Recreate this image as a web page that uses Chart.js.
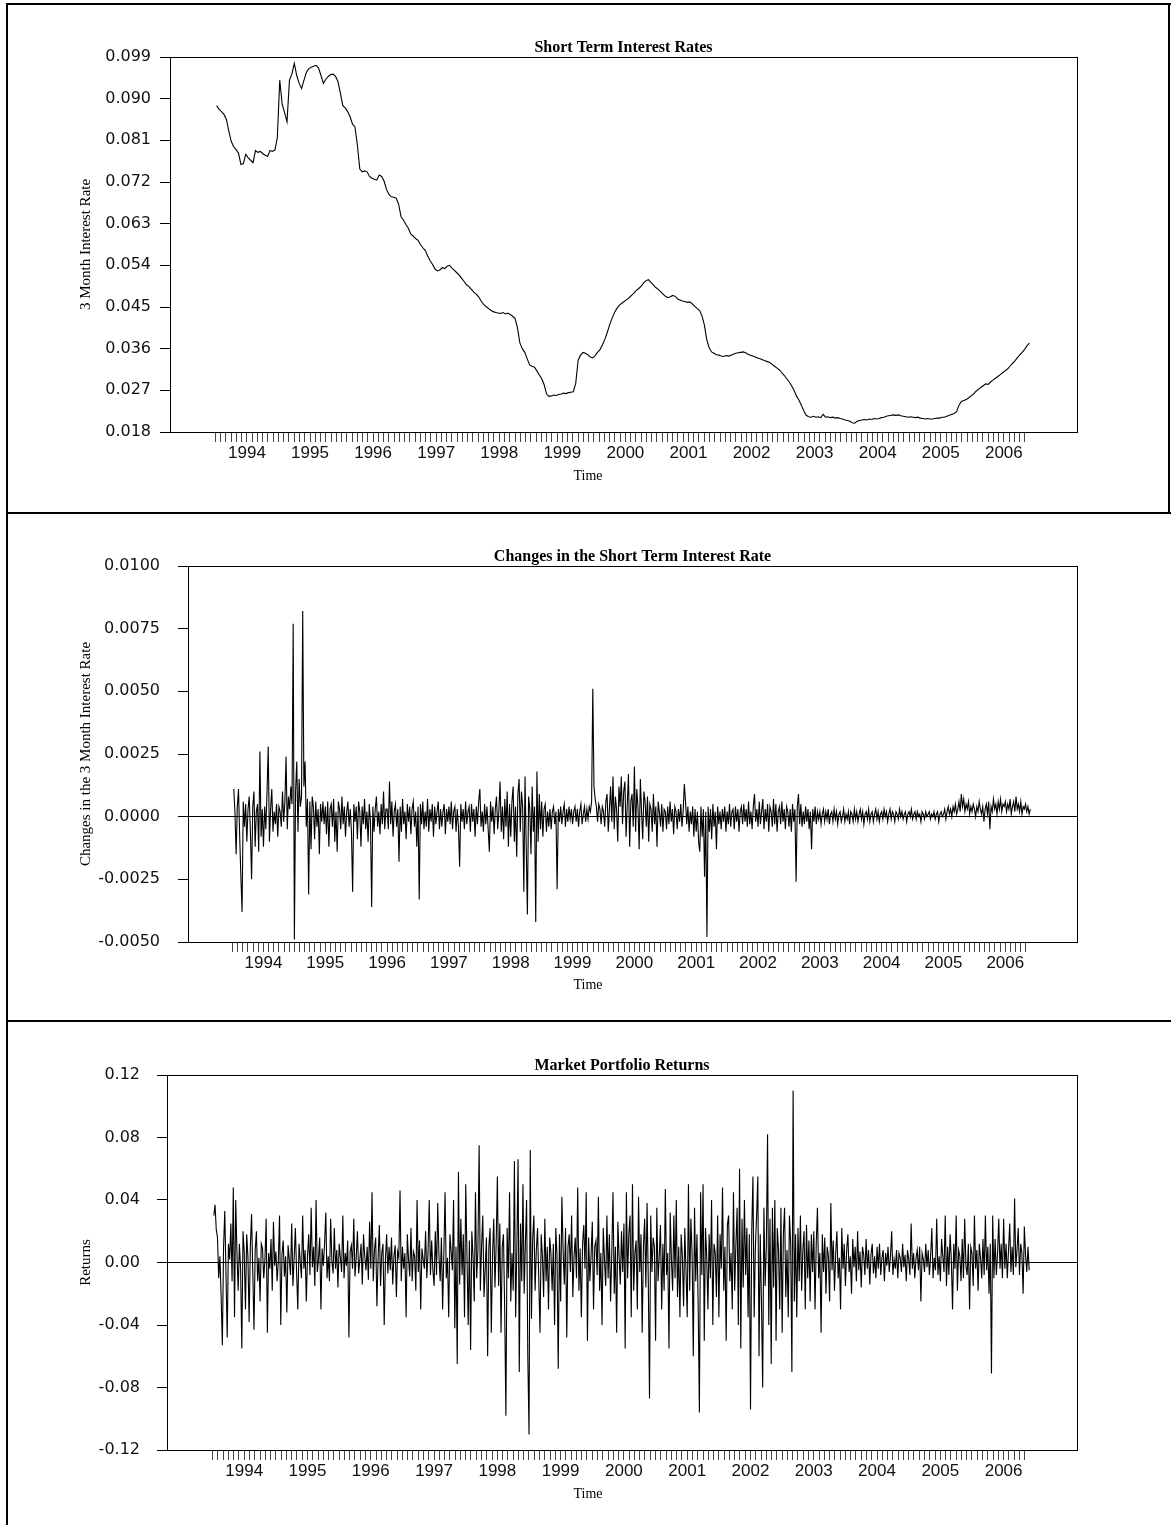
<!DOCTYPE html>
<html>
<head>
<meta charset="utf-8">
<script src="https://cdn.jsdelivr.net/npm/chart.js@4.4.0/dist/chart.umd.min.js"></script>
<style>
  body { margin: 0; background: #fff; }
  #page { position: relative; width: 1171px; height: 1525px; overflow: hidden; }
  .panel { position: absolute; left: 0; }
  .rule { position: absolute; background: #000; }
</style>
</head>
<body>
<div id="page">
  <canvas id="rateChart" class="panel" style="top:0" width="1171" height="513"></canvas>
  <canvas id="changeChart" class="panel" style="top:513px" width="1171" height="508"></canvas>
  <canvas id="returnChart" class="panel" style="top:1021px" width="1171" height="504"></canvas>
  <div class="rule" style="left:6px;top:3px;width:2px;height:1522px"></div>
  <div class="rule" style="left:6px;top:3px;width:1165px;height:2px"></div>
  <div class="rule" style="left:1168px;top:3px;width:2px;height:510px"></div>
  <div class="rule" style="left:6px;top:512px;width:1165px;height:2px"></div>
  <div class="rule" style="left:6px;top:1020px;width:1165px;height:2px"></div>
</div>
<script>
/* ---------- Data: Jul 1993 - May 2006 ---------- */

const START = 1993.52;      // first observation (decimal year)
const RATE_STEP = 1 / 26;   // level read every two weeks
const WEEK_STEP = 1 / 52;   // changes and returns are weekly

const yearLabels = ["1994", "1995", "1996", "1997", "1998", "1999", "2000",
  "2001", "2002", "2003", "2004", "2005", "2006"];

const rateTicks = [0.018, 0.027, 0.036, 0.045, 0.054, 0.063, 0.072, 0.081, 0.090, 0.099];
const changeTicks = [-0.005, -0.0025, 0, 0.0025, 0.005, 0.0075, 0.01];
const returnTicks = [-0.12, -0.08, -0.04, 0, 0.04, 0.08, 0.12];

const rateValues = [
  0.0885, 0.0877, 0.0872, 0.0866, 0.0855, 0.0830, 0.0808, 0.0796, 0.0790, 0.0782, 0.0758, 0.0760, 0.0780,
  0.0772, 0.0767, 0.0762, 0.0788, 0.0784, 0.0786, 0.0781, 0.0778, 0.0775, 0.0788, 0.0786, 0.0789, 0.0815,
  0.0940, 0.0888, 0.0870, 0.0850, 0.0940, 0.0953, 0.0976, 0.0950, 0.0933, 0.0922, 0.0940, 0.0957, 0.0965,
  0.0968, 0.0970, 0.0972, 0.0966, 0.0950, 0.0933, 0.0942, 0.0948, 0.0952, 0.0953, 0.0948, 0.0937, 0.0912,
  0.0885, 0.0880, 0.0872, 0.0861, 0.0845, 0.0839, 0.0800, 0.0748, 0.0742, 0.0744, 0.0742, 0.0732, 0.0728,
  0.0726, 0.0724, 0.0735, 0.0732, 0.0722, 0.0704, 0.0693, 0.0688, 0.0687, 0.0685, 0.0672, 0.0645, 0.0638,
  0.0628, 0.0620, 0.0608, 0.0603, 0.0598, 0.0594, 0.0585, 0.0578, 0.0572, 0.0560, 0.0550, 0.0542, 0.0532,
  0.0528, 0.0530, 0.0535, 0.0533, 0.0538, 0.0540, 0.0534, 0.0529, 0.0524, 0.0519, 0.0512, 0.0505, 0.0498,
  0.0494, 0.0488, 0.0482, 0.0478, 0.0472, 0.0463, 0.0456, 0.0451, 0.0447, 0.0443, 0.0440, 0.0438, 0.0437,
  0.0436, 0.0438, 0.0435, 0.0437, 0.0434, 0.0430, 0.0425, 0.0405, 0.0372, 0.0360, 0.0352, 0.0338, 0.0325,
  0.0322, 0.0320, 0.0312, 0.0303, 0.0295, 0.0282, 0.0262, 0.0257, 0.0258, 0.0260, 0.0259, 0.0261, 0.0262,
  0.0264, 0.0263, 0.0265, 0.0266, 0.0267, 0.0285, 0.0335, 0.0346, 0.0352, 0.0350, 0.0347, 0.0342, 0.0340,
  0.0345, 0.0352, 0.0358, 0.0368, 0.0380, 0.0395, 0.0412, 0.0426, 0.0438, 0.0447, 0.0454, 0.0458, 0.0462,
  0.0466, 0.0470, 0.0475, 0.0480, 0.0486, 0.0490, 0.0495, 0.0502, 0.0507, 0.0509, 0.0503, 0.0498, 0.0492,
  0.0488, 0.0483, 0.0478, 0.0473, 0.0470, 0.0472, 0.0475, 0.0473, 0.0467, 0.0465, 0.0463, 0.0462, 0.0460,
  0.0461, 0.0457, 0.0452, 0.0447, 0.0443, 0.0432, 0.0412, 0.0380, 0.0362, 0.0353, 0.0350, 0.0347, 0.0346,
  0.0344, 0.0343, 0.0345, 0.0344, 0.0346, 0.0348, 0.0350, 0.0351, 0.0352, 0.0353, 0.0351, 0.0348, 0.0346,
  0.0344, 0.0342, 0.0340, 0.0338, 0.0336, 0.0334, 0.0332, 0.0330, 0.0326, 0.0322, 0.0318, 0.0314, 0.0308,
  0.0302, 0.0295, 0.0288, 0.0280, 0.0270, 0.0258, 0.0249, 0.0238, 0.0226, 0.0216, 0.0213, 0.0212, 0.0214,
  0.0212, 0.0213, 0.0211, 0.0218, 0.0212, 0.0213, 0.0211, 0.0212, 0.0210, 0.0211, 0.0209, 0.0208, 0.0206,
  0.0205, 0.0203, 0.0200, 0.0199, 0.0203, 0.0205, 0.0206, 0.0207, 0.0206, 0.0208, 0.0207, 0.0209, 0.0208,
  0.0209, 0.0211, 0.0212, 0.0214, 0.0215, 0.0216, 0.0217, 0.0216, 0.0217, 0.0215, 0.0214, 0.0213, 0.0212,
  0.0213, 0.0212, 0.0211, 0.0212, 0.0210, 0.0209, 0.0208, 0.0209, 0.0208, 0.0208, 0.0209, 0.0210, 0.0210,
  0.0212, 0.0212, 0.0214, 0.0216, 0.0218, 0.0220, 0.0224, 0.0238, 0.0246, 0.0248, 0.0250, 0.0254, 0.0258,
  0.0262, 0.0268, 0.0272, 0.0276, 0.0280, 0.0284, 0.0283, 0.0288, 0.0292, 0.0296, 0.0300, 0.0304, 0.0308,
  0.0312, 0.0316, 0.0322, 0.0328, 0.0333, 0.0340, 0.0346, 0.0352, 0.0358, 0.0366, 0.0372
];

const rateChanges = [
  // 1993 (from July)
  0.0011, 0.0002, -0.0015, 0.0004, 0.0011, -0.0008, -0.0024, -0.0038, 0.0006, -0.0004, 0.0005, -0.0010, 0.0003,
  0.0008, -0.0006, -0.0025, 0.0004, 0.0010, -0.0012, 0.0002, 0.0005, -0.0014, 0.0026, -0.0008, 0.0003,
  // 1994
  -0.0012, 0.0004, -0.0005, 0.0010, 0.0028, -0.0010, 0.0003, 0.0011, -0.0006, 0.0002, -0.0003, 0.0005, -0.0008,
  0.0004, 0.0002, -0.0004, 0.0010, -0.0002, 0.0006, 0.0024, -0.0005, 0.0008, 0.0003, 0.0012, 0.0005, 0.0077,
  -0.0049, 0.0010, 0.0022, -0.0006, 0.0015, 0.0004, 0.0008, 0.0082, 0.0012, 0.0022, -0.0004, 0.0007, -0.0031,
  0.0006, -0.0013, 0.0008, 0.0004, -0.0009, 0.0006, -0.0004, 0.0003, -0.0015, 0.0005, -0.0002, 0.0006, -0.0003,
  // 1995
  0.0004, -0.0007, 0.0006, -0.0012, 0.0003, 0.0005, -0.0004, 0.0007, -0.0010, 0.0002, -0.0014, 0.0006, 0.0003,
  -0.0005, 0.0008, -0.0003, 0.0004, -0.0008, 0.0002, 0.0006, -0.0004, 0.0003, -0.0006, -0.0030, 0.0005, -0.0002,
  0.0004, -0.0009, 0.0006, 0.0002, -0.0012, 0.0004, -0.0003, 0.0007, -0.0005, 0.0002, -0.0010, 0.0005, -0.0002,
  -0.0036, 0.0004, -0.0006, 0.0003, 0.0008, -0.0004, 0.0002, -0.0007, 0.0005, -0.0003, 0.0010, -0.0005, 0.0003,
  // 1996
  0.0003, -0.0005, 0.0014, -0.0003, 0.0006, -0.0008, 0.0002, 0.0005, -0.0004, 0.0003, -0.0018, 0.0004, -0.0006,
  0.0007, -0.0003, 0.0002, -0.0009, 0.0005, -0.0002, 0.0004, -0.0007, 0.0003, 0.0006, -0.0004, 0.0002, -0.0012,
  0.0004, -0.0033, 0.0005, -0.0003, 0.0006, -0.0005, 0.0002, -0.0004, 0.0007, -0.0006, 0.0003, -0.0002, 0.0005,
  -0.0008, 0.0004, -0.0003, 0.0002, 0.0006, -0.0005, 0.0003, -0.0004, 0.0002, 0.0005, -0.0007, 0.0003, -0.0002,
  // 1997
  0.0004, -0.0003, 0.0006, -0.0005, 0.0002, 0.0004, -0.0006, 0.0003, -0.0004, -0.0020, 0.0005, -0.0002, 0.0003,
  -0.0005, 0.0006, -0.0003, 0.0002, 0.0004, -0.0006, 0.0005, -0.0002, 0.0003, -0.0008, 0.0004, -0.0003, 0.0006,
  0.0011, -0.0004, 0.0002, -0.0006, 0.0005, -0.0003, 0.0004, -0.0005, -0.0014, 0.0006, -0.0002, 0.0004, -0.0007,
  0.0003, 0.0008, -0.0005, 0.0002, 0.0014, -0.0006, 0.0004, -0.0009, 0.0007, -0.0004, 0.0010, -0.0012, 0.0005,
  // 1998
  -0.0008, 0.0006, 0.0012, -0.0010, 0.0004, -0.0016, 0.0009, 0.0015, -0.0006, 0.0010, 0.0004, -0.0030, 0.0016,
  -0.0012, -0.0039, 0.0008, 0.0003, -0.0015, 0.0012, -0.0006, 0.0004, -0.0042, 0.0018, -0.0010, 0.0009, -0.0005,
  0.0006, -0.0008, 0.0003, 0.0005, -0.0006, 0.0002, -0.0004, 0.0003, -0.0005, 0.0002, 0.0004, -0.0003, 0.0002,
  -0.0029, 0.0003, -0.0002, 0.0004, -0.0003, 0.0002, 0.0005, -0.0004, 0.0003, -0.0002, 0.0004, -0.0001, 0.0003,
  // 1999
  -0.0003, 0.0002, 0.0004, -0.0002, 0.0003, -0.0004, 0.0002, 0.0005, -0.0003, 0.0001, 0.0004, -0.0002, 0.0003,
  -0.0001, 0.0004, 0.0002, 0.0006, 0.0051, 0.0012, 0.0007, 0.0004, -0.0002, 0.0005, 0.0003, -0.0003, 0.0004,
  0.0002, -0.0004, 0.0006, 0.0009, -0.0006, 0.0003, 0.0012, -0.0002, 0.0016, -0.0005, 0.0008, 0.0003, -0.0010,
  0.0012, 0.0004, 0.0016, -0.0003, 0.0010, 0.0014, -0.0008, 0.0005, 0.0017, -0.0012, 0.0006, 0.0009, -0.0004,
  // 2000
  0.0020, -0.0006, 0.0011, 0.0004, -0.0013, 0.0015, 0.0002, -0.0009, 0.0010, 0.0006, -0.0004, 0.0008, -0.0010,
  0.0005, 0.0003, -0.0006, 0.0009, -0.0003, 0.0004, -0.0012, 0.0006, 0.0002, -0.0004, 0.0005, -0.0006, 0.0003,
  0.0002, -0.0005, 0.0004, -0.0003, 0.0006, -0.0002, 0.0003, -0.0007, 0.0004, 0.0002, -0.0005, 0.0003, -0.0002,
  0.0005, -0.0004, 0.0002, 0.0013, 0.0006, -0.0003, 0.0004, -0.0006, 0.0002, -0.0003, 0.0004, -0.0008, 0.0003,
  // 2001
  -0.0006, 0.0002, -0.0010, -0.0014, 0.0004, -0.0008, 0.0003, -0.0024, 0.0002, -0.0048, 0.0004, -0.0006, 0.0003,
  -0.0009, 0.0005, -0.0004, 0.0002, -0.0013, 0.0004, -0.0003, 0.0002, -0.0005, 0.0003, -0.0002, 0.0004, -0.0006,
  0.0002, -0.0003, 0.0005, -0.0004, 0.0002, 0.0003, -0.0005, 0.0004, -0.0002, 0.0003, -0.0006, 0.0002, 0.0004,
  -0.0003, 0.0005, -0.0002, 0.0003, -0.0004, 0.0006, -0.0003, 0.0002, -0.0005, 0.0004, 0.0009, -0.0002, 0.0003,
  // 2002
  -0.0004, 0.0006, -0.0003, 0.0002, 0.0007, -0.0005, 0.0003, -0.0002, 0.0005, -0.0006, 0.0004, 0.0002, -0.0004,
  0.0007, -0.0003, 0.0005, -0.0006, 0.0002, 0.0004, -0.0003, 0.0006, -0.0002, 0.0003, -0.0005, 0.0004, 0.0002,
  -0.0004, 0.0003, -0.0006, 0.0005, -0.0002, 0.0003, -0.0026, 0.0004, 0.0009, -0.0003, 0.0005, -0.0004, 0.0002,
  -0.0003, 0.0004, -0.0002, 0.0003, -0.0005, 0.0002, -0.0013, 0.0003, -0.0002, 0.0004, -0.0003, 0.0002, -0.0001,
  // 2003
  0.0002, -0.0003, 0.0001, 0.0003, -0.0002, 0.0002, -0.0001, 0.0003, -0.0003, 0.0001, 0.0002, -0.0002, 0.0003,
  -0.0001, 0.0002, -0.0003, 0.0001, 0.0002, -0.0002, 0.0000, 0.0003, -0.0002, 0.0001, -0.0001, 0.0002, -0.0003,
  0.0002, 0.0001, -0.0002, 0.0003, -0.0001, 0.0002, -0.0002, 0.0001, 0.0003, -0.0001, 0.0002, -0.0003, 0.0001,
  0.0002, -0.0001, 0.0003, -0.0002, 0.0001, 0.0002, -0.0002, 0.0001, 0.0003, -0.0001, 0.0002, -0.0002, 0.0001,
  // 2004
  0.0002, -0.0001, 0.0003, 0.0000, 0.0002, -0.0002, 0.0001, 0.0003, -0.0001, 0.0002, 0.0001, -0.0002, 0.0002,
  0.0001, -0.0001, 0.0003, 0.0000, 0.0002, -0.0001, 0.0001, 0.0002, -0.0002, 0.0001, 0.0002, 0.0000, 0.0003,
  -0.0001, 0.0001, 0.0002, -0.0001, 0.0002, 0.0000, 0.0001, -0.0002, 0.0002, 0.0001, -0.0001, 0.0002, 0.0000,
  0.0001, 0.0002, -0.0001, 0.0001, 0.0000, 0.0002, -0.0001, 0.0001, 0.0002, -0.0002, 0.0001, 0.0002, 0.0000,
  // 2005
  0.0001, 0.0003, -0.0001, 0.0002, 0.0004, 0.0001, 0.0003, 0.0000, 0.0004, 0.0002, 0.0005, 0.0001, 0.0003,
  0.0006, 0.0002, 0.0009, 0.0004, 0.0007, 0.0002, 0.0005, 0.0003, 0.0006, 0.0001, 0.0004, 0.0002, 0.0005,
  0.0003, 0.0000, 0.0004, 0.0002, 0.0006, 0.0003, 0.0001, 0.0004, -0.0002, 0.0003, 0.0005, 0.0001, 0.0006,
  -0.0005, 0.0004, 0.0002, 0.0007, 0.0003, 0.0005, 0.0001, 0.0006, 0.0003, 0.0007, 0.0002, 0.0005, 0.0004,
  // 2006 (to May)
  0.0006, 0.0002, 0.0005, 0.0003, 0.0007, 0.0001, 0.0004, 0.0006, 0.0002, 0.0008, 0.0003, 0.0005, 0.0002,
  0.0006, 0.0001, 0.0004, 0.0003, 0.0005, 0.0002, 0.0004, 0.0001, 0.0003
];

const marketReturns = [
  // 1993 (from July)
  0.030, 0.037, 0.021, 0.016, -0.010, 0.004, -0.022, -0.053, 0.010, 0.033, -0.008, -0.048, 0.012,
  0.002, 0.025, -0.012, 0.048, -0.035, 0.040, 0.006, -0.018, 0.012, -0.004, -0.055, 0.020,
  // 1994
  0.006, -0.030, 0.018, 0.004, -0.038, 0.010, 0.031, -0.006, -0.043, 0.008, 0.020, -0.012, 0.003,
  -0.025, 0.012, 0.009, -0.010, 0.002, 0.028, -0.045, 0.006, -0.004, 0.015, -0.018, 0.026, -0.002,
  0.007, -0.012, 0.001, 0.030, -0.040, 0.005, 0.014, -0.009, 0.004, -0.032, 0.011, 0.002, -0.008,
  0.025, -0.015, 0.003, 0.022, -0.006, -0.030, 0.012, 0.001, -0.010, 0.030, -0.004, 0.008, -0.025,
  // 1995
  0.005, 0.018, -0.008, 0.035, -0.003, 0.010, -0.015, 0.040, -0.006, 0.002, 0.016, -0.030, 0.009,
  -0.002, 0.012, 0.032, -0.010, 0.004, -0.012, 0.028, 0.001, -0.007, 0.022, -0.004, 0.008, -0.016,
  0.012, 0.003, -0.006, 0.030, -0.010, 0.006, -0.002, 0.014, -0.048, 0.007, 0.011, -0.004, 0.028,
  -0.009, 0.003, 0.020, -0.007, 0.002, 0.012, -0.014, 0.018, 0.004, -0.005, 0.010, -0.011, 0.026,
  // 1996
  -0.004, 0.045, -0.012, 0.008, 0.016, -0.028, 0.003, 0.024, -0.015, 0.006, 0.012, -0.040, 0.002,
  0.018, -0.007, 0.010, -0.005, 0.016, -0.014, 0.004, 0.011, -0.022, 0.007, 0.003, 0.046, -0.012,
  0.010, -0.004, 0.006, -0.035, 0.018, 0.002, -0.009, 0.022, -0.012, 0.007, 0.004, -0.018, 0.040,
  -0.006, 0.014, -0.030, 0.009, 0.002, -0.004, 0.020, -0.010, 0.006, 0.040, -0.008, 0.014, -0.005,
  // 1997
  -0.015, 0.020, -0.008, 0.038, 0.004, -0.012, 0.016, -0.030, 0.006, 0.045, -0.010, 0.003, -0.035,
  0.018, 0.007, -0.005, 0.040, -0.042, 0.010, -0.065, 0.058, -0.014, 0.028, -0.008, 0.018, -0.035,
  0.050, 0.005, -0.040, 0.014, -0.056, 0.020, 0.004, -0.025, 0.045, -0.010, 0.008, 0.075, -0.018,
  0.010, 0.030, -0.022, -0.004, 0.016, -0.060, 0.010, 0.022, -0.045, 0.004, 0.028, -0.016, 0.012,
  // 1998
  0.055, -0.015, 0.025, -0.045, 0.010, 0.018, -0.030, -0.098, 0.022, -0.010, 0.045, -0.025, 0.006,
  -0.018, 0.065, -0.035, 0.010, 0.066, -0.070, 0.025, -0.012, 0.050, -0.020, 0.012, 0.040, -0.060,
  -0.110, 0.072, -0.036, 0.015, 0.030, -0.018, 0.008, 0.022, -0.010, -0.045, 0.018, 0.004, -0.022,
  0.028, -0.012, 0.010, -0.030, 0.016, 0.006, -0.018, 0.012, -0.040, 0.022, 0.004, -0.068, 0.018,
  // 1999
  -0.025, 0.042, 0.008, -0.014, 0.022, -0.048, 0.010, 0.018, -0.006, 0.030, -0.022, 0.004, 0.016,
  -0.010, 0.048, -0.018, 0.009, -0.035, 0.012, 0.024, -0.004, 0.045, -0.050, 0.016, -0.012, 0.005,
  0.026, -0.030, 0.010, 0.014, -0.008, 0.042, -0.018, 0.006, -0.040, 0.022, 0.002, -0.015, 0.030,
  -0.010, 0.018, -0.025, 0.005, 0.045, -0.020, 0.010, -0.045, 0.026, 0.004, -0.014, 0.020, -0.006,
  // 2000
  0.025, -0.055, 0.045, -0.010, 0.018, 0.030, -0.035, 0.050, -0.018, 0.006, 0.014, -0.030, 0.042,
  -0.006, 0.018, -0.045, 0.010, 0.028, -0.016, 0.038, -0.012, -0.087, 0.030, -0.006, 0.016, 0.010,
  -0.050, 0.035, -0.012, 0.004, 0.024, -0.030, 0.012, -0.018, 0.047, -0.008, 0.006, -0.055, 0.032,
  0.002, -0.018, 0.030, -0.010, 0.040, -0.022, 0.010, -0.035, 0.018, 0.004, -0.028, 0.022, -0.006,
  // 2001
  -0.035, 0.050, -0.018, 0.028, 0.006, -0.060, 0.035, -0.012, 0.018, -0.028, -0.096, 0.045, -0.008,
  0.050, -0.050, 0.022, 0.004, -0.030, 0.018, -0.010, 0.040, -0.040, 0.012, 0.006, -0.022, 0.030,
  -0.035, 0.018, -0.004, 0.048, -0.018, 0.010, -0.050, 0.024, 0.030, -0.012, 0.006, -0.030, 0.045,
  -0.018, 0.012, 0.035, -0.040, 0.060, -0.055, 0.028, -0.016, 0.040, -0.008, 0.022, -0.035, 0.018,
  // 2002
  -0.094, 0.020, 0.055, -0.035, 0.010, 0.030, 0.055, -0.060, 0.018, -0.025, -0.080, 0.035, -0.015, 0.010,
  0.082, -0.040, 0.028, -0.065, 0.035, -0.016, 0.040, -0.050, 0.022, 0.008, -0.030, 0.035, -0.045,
  0.018, 0.035, -0.022, 0.008, -0.035, 0.030, 0.012, -0.070, 0.110, -0.025, 0.018, -0.035, 0.022,
  -0.012, 0.030, -0.018, 0.008, 0.020, -0.030, 0.024, -0.010, 0.014, -0.025, 0.018, -0.006,
  // 2003
  0.020, -0.030, 0.012, 0.035, -0.010, 0.006, -0.045, 0.018, -0.006, 0.016, -0.020, 0.010, 0.004,
  -0.025, 0.038, -0.005, 0.014, -0.018, 0.006, 0.020, -0.010, 0.003, -0.030, 0.022, -0.004, 0.012,
  -0.015, 0.008, 0.018, -0.006, 0.004, -0.020, 0.015, -0.003, 0.010, -0.012, 0.020, -0.005, 0.007,
  -0.016, 0.010, 0.005, -0.008, 0.015, -0.004, 0.008, -0.014, 0.005, 0.012, -0.007, 0.004, -0.010,
  // 2004
  0.010, -0.004, 0.012, -0.008, 0.003, 0.008, -0.012, 0.006, -0.002, 0.010, -0.006, 0.004, 0.020,
  -0.008, 0.002, -0.004, 0.008, -0.010, 0.006, 0.003, -0.006, 0.012, -0.003, 0.005, -0.012, 0.008,
  0.002, -0.008, 0.025, -0.004, 0.006, -0.010, 0.003, 0.008, -0.005, 0.010, -0.025, 0.006, 0.002,
  -0.006, 0.012, -0.003, 0.008, -0.008, 0.004, 0.022, -0.010, 0.003, -0.005, 0.028, -0.008, 0.004,
  // 2005
  -0.012, 0.015, 0.004, -0.006, 0.030, -0.015, 0.010, -0.008, 0.018, 0.002, -0.030, 0.012, -0.004,
  0.030, -0.018, 0.008, 0.004, -0.012, 0.015, -0.010, 0.028, -0.002, -0.008, 0.012, -0.030, 0.010,
  0.006, -0.015, 0.030, -0.004, 0.008, -0.018, 0.012, 0.003, -0.010, 0.015, -0.008, 0.030, -0.005,
  0.010, -0.020, 0.012, -0.071, 0.030, -0.010, 0.015, -0.008, 0.006, 0.028, -0.004, 0.012, -0.010,
  // 2006 (to May)
  0.028, -0.004, 0.012, -0.010, 0.008, 0.025, -0.006, 0.010, -0.008, 0.041, -0.003, 0.008, 0.022,
  -0.008, 0.012, 0.006, -0.020, 0.023, 0.005, -0.006, 0.010, -0.005
];

/* ---------- Axis helpers ---------- */

const X_MIN = 1992.78;
const X_MAX = 2007.16;

// monthly tick marks from Jul 1993 to May 2006, a year label at each January
const monthTicks = [];
for (let m = 0; m <= 154; m++) monthTicks.push(1993.5 + m / 12);

function yearLabel(value) {
  const y = Math.round(value);
  if (Math.abs(value - y) > 1e-6) return "";
  return yearLabels.includes(String(y)) ? String(y) : "";
}

const SANS = "'Liberation Sans', Arial, Helvetica, sans-serif";
const WIDE_SANS = "'DejaVu Sans', Verdana, sans-serif";
const SERIF = "'Liberation Serif', 'Times New Roman', Times, serif";

const frameBox = {
  id: "frameBox",
  afterDraw(chart) {
    const { ctx, chartArea: a } = chart;
    ctx.save();
    ctx.strokeStyle = "#000";
    ctx.lineWidth = 1;
    ctx.strokeRect(Math.round(a.left) + 0.5, Math.round(a.top) + 0.5,
      Math.round(a.right - a.left), Math.round(a.bottom - a.top));
    ctx.restore();
  }
};

const caption = {
  id: "caption",
  afterDraw(chart, args, opts) {
    const ctx = chart.ctx;
    ctx.save();
    ctx.font = "14px " + SERIF;
    ctx.fillStyle = "#000";
    ctx.textAlign = "center";
    ctx.textBaseline = "middle";
    ctx.fillText(opts.text, opts.x, opts.y);
    ctx.restore();
  }
};

/* ---------- Panels ---------- */

function makePanel(id, cfg) {
  const canvas = document.getElementById(id);
  const height = canvas.height;
  return new Chart(canvas, {
    type: "line",
    data: {
      datasets: [{
        data: cfg.values.map((v, i) => ({ x: START + i * cfg.step, y: v })),
        borderColor: "#000",
        borderWidth: 1.1,
        pointRadius: 0,
        tension: 0
      }]
    },
    options: {
      responsive: false,
      animation: false,
      events: [],
      layout: { padding: { left: 0, right: 1171 - cfg.right, top: cfg.top - 17, bottom: 0 } },
      plugins: {
        legend: { display: false },
        tooltip: { enabled: false },
        title: {
          display: true,
          text: cfg.title,
          fullSize: false,
          color: "#000",
          font: { family: SERIF, size: 16, weight: "bold", lineHeight: 1 },
          padding: { top: 0, bottom: 1 }
        },
        caption: { text: "Time", x: 588, y: cfg.timeY }
      },
      scales: {
        x: {
          type: "linear",
          min: X_MIN,
          max: X_MAX,
          afterBuildTicks: s => { s.ticks = monthTicks.map(v => ({ value: v })); },
          afterFit: s => { s.height = height - cfg.bottom; },
          grid: { drawOnChartArea: false, tickLength: 10, tickColor: "#444", lineWidth: 1 },
          border: { display: true, color: "#000" },
          ticks: {
            autoSkip: false, maxRotation: 0, minRotation: 0, padding: 1,
            color: "#111", font: { family: SANS, size: 17 },
            callback: yearLabel
          }
        },
        y: {
          min: cfg.ticks[0],
          max: cfg.ticks[cfg.ticks.length - 1],
          afterBuildTicks: s => { s.ticks = cfg.ticks.map(v => ({ value: v })); },
          afterFit: s => { s.width = cfg.left; },
          grid: {
            drawOnChartArea: cfg.zeroLine,
            tickLength: 10,
            tickColor: "#000",
            color: c => (c.tick && c.tick.value === 0 ? "#000" : "rgba(0,0,0,0)")
          },
          border: { display: true, color: "#000" },
          ticks: {
            padding: cfg.labelPad,
            color: "#111",
            font: { family: WIDE_SANS, size: 16 },
            callback: v => v.toFixed(cfg.decimals)
          },
          title: {
            display: true,
            text: cfg.yTitle,
            color: "#000",
            font: { family: SERIF, size: 15 },
            padding: { top: 77, bottom: 0 }
          }
        }
      }
    },
    plugins: [frameBox, caption]
  });
}

makePanel("rateChart", {
  values: rateValues, step: RATE_STEP, ticks: rateTicks, decimals: 3, zeroLine: false,
  title: "Short Term Interest Rates", yTitle: "3 Month Interest Rate",
  left: 170, right: 1077, top: 57, bottom: 432, labelPad: 9, timeY: 476
});

makePanel("changeChart", {
  values: rateChanges, step: WEEK_STEP, ticks: changeTicks, decimals: 4, zeroLine: true,
  title: "Changes in the Short Term Interest Rate", yTitle: "Changes in the 3 Month Interest Rate",
  left: 188, right: 1077, top: 53, bottom: 429, labelPad: 18, timeY: 472
});

makePanel("returnChart", {
  values: marketReturns, step: WEEK_STEP, ticks: returnTicks, decimals: 2, zeroLine: true,
  title: "Market Portfolio Returns", yTitle: "Returns",
  left: 167, right: 1077, top: 54, bottom: 429, labelPad: 17, timeY: 473
});
</script>
</body>
</html>
